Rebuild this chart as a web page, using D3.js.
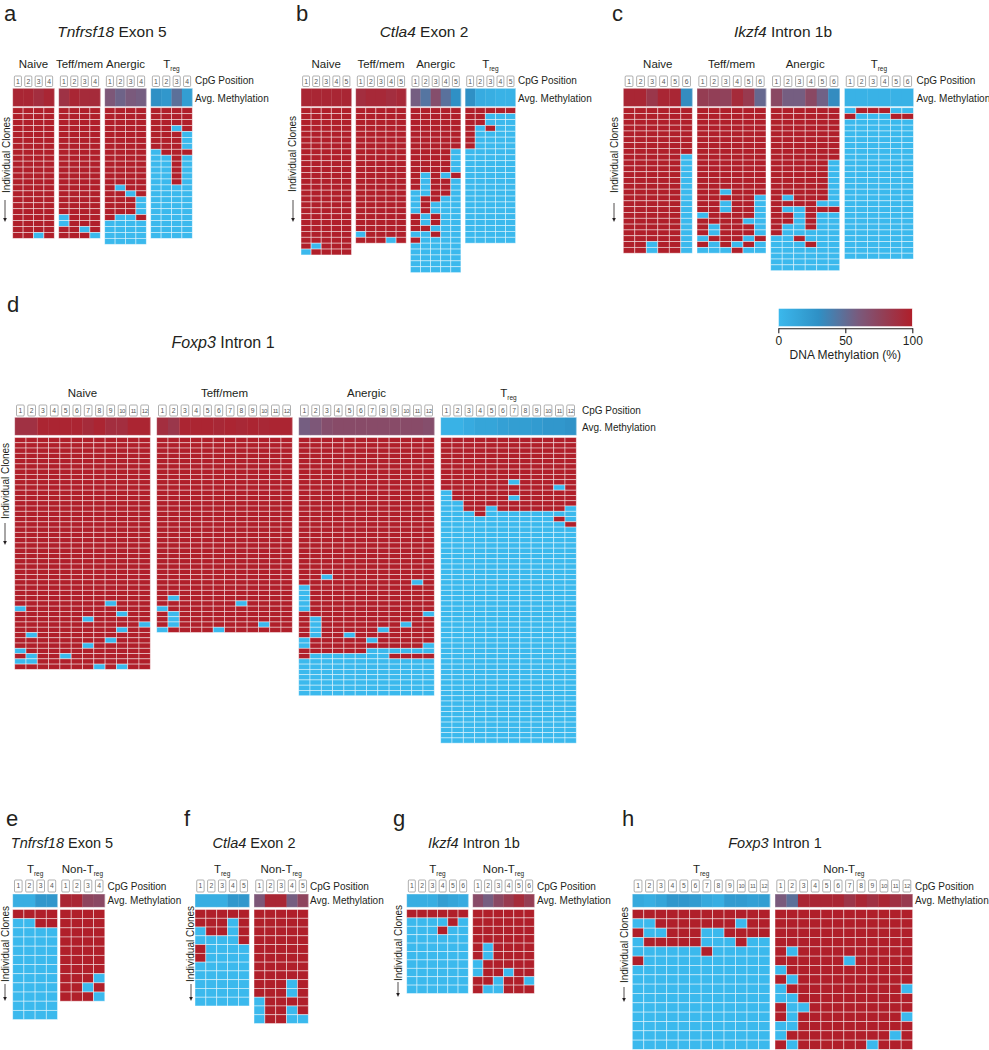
<!DOCTYPE html>
<html><head><meta charset="utf-8">
<script src="https://cdn.jsdelivr.net/npm/d3@7"></script>
<style>
body{margin:0;background:#fff}
svg{display:block}
text{font-family:"Liberation Sans",Arial,Helvetica,sans-serif;fill:#231f20}
</style>
</head><body>
<svg id="chart" width="989" height="1050"></svg>
<script>
// ---------- DATA (1 = methylated, 0 = unmethylated; "row*n" = n identical clones) ----------
const groupsABCD = ["Naive","Teff/mem","Anergic","Treg"];
const groupsEFGH = ["Treg","Non-Treg"];

const aNaive   = ["1111*21","1101"];
const aTeff    = ["1111*18","0111*2","1101","1110"];
const aAnergic = ["1111*13","1011","1101","1110*3","1001","0000*4"];
const aTreg    = ["1111*3","1101","1110*3","0111","0010*5","0000*9"];
const aAvg = [[95,95,90,95],[87,95,92,92],[62,55,60,58],[30,25,48,20]];

const bNaive   = ["11111*23","10111","01111"];
const bTeff    = ["11111*21","01111","11101"];
const bAnergic = ["11111*7","11110*4","10101","10110*2","00110","01100","01000*2","10100*2","11000","00100","10000","00000*5"];
const bTreg    = ["11111","11000*2","10100","10000*3","00000*16"];
const bAvg = [[95,95,95,95,95],[90,93,93,90,93],[58,45,68,47,30],[30,10,8,5,5]];

const cNaive   = ["111111*8","111110*15","110110*2"];
const cTeff    = ["111111*14","110111","111110","110110*2","011110","111100","101110*2","011101","101010","000100"];
const cAnergic = ["111111*9","111110*6","101110","111100","100111","110100*2","100100","100000","001000","000100","000000*4"];
const cTreg    = ["011100","100011","000000*24"];
const cAvg = [[95,95,84,95,95,32],[80,78,76,92,82,52],[72,58,58,72,56,32],[5,5,5,5,5,5]];

const dNaive   = ["111111111111*31","111111110111","011111111111","111111111011","111111011111","111111111110","111111111011","101111111111","111111110111","111111011111","011111111111","101101111111","001111111111","111111101011"];
const dTeff    = ["111111111111*30","101111111111","111111101111","011111111111","101111111111*2","101111111011","011110111111"];
const dAnergic = ["111111111111*26","110111111111","111111111101","011111111111*5","111111111110","101111111111","101111111011","101111101111","101101111111","011111011111","011111111110","111111000000","100000001111","000000000000*7"];
const dTreg    = ["111111111111*8","111111011111","111111111101","011111111111","011111011111","001111111111","001101111110","000100000000","000000000010","000000000001","000000000000*41"];
const dAvg = [[88,88,96,96,96,96,92,96,90,90,96,96],[90,84,96,96,96,94,96,94,96,94,96,96],[58,62,68,70,70,70,70,70,70,70,70,68],[5,5,10,15,15,18,20,20,22,25,25,28]];

const eTreg = ["1111","0011","0000*10"];
const eNon  = ["1111*7","1110","1101","1110"];
const eAvg = [[8,8,25,25],[95,95,75,72]];
const fTreg = ["11111","11101","01101","00001","10000*2","00000*5"];
const fNon  = ["11111*8","11101*2","01111","01101","01100"];
const fAvg = [[8,8,8,25,25],[62,95,95,58,75]];
const gTreg = ["111111","000010","000100","000000*7"];
const gNon  = ["111111*4","101111*2","011111","011011","110110","100111"];
const gAvg = [[8,8,8,20,15,10],[70,58,72,82,92,80]];
const hTreg = ["111111111111","001111111011","100111001111","011111000100","000000100000","100000000000","000000000000*9"];
const hNon  = ["111111111111*4","101111111111","111111011111","011111111111","101111111111","011111111110","001111111111","100111111111","101111111110","001111111111","011111111101","101111110111"];
const hAvg = [[12,8,15,25,25,22,12,8,22,22,18,20],[60,48,95,95,95,95,85,95,88,95,88,82]];

const colorTicks = [0,50,100];

// ---------- helpers ----------
function expand(list){
  const out=[];
  list.forEach(s=>{const [p,n]=s.split('*'); const k=n?+n:1; for(let i=0;i<k;i++) out.push(p.split('').map(Number));});
  return out;
}
const meth = d3.scaleLinear().domain([0,30,60,100])
  .range(["#3bb9ed","#2f90c5","#7a5a7c","#b01f2a"]).interpolate(d3.interpolateRgb).clamp(true);

const svg = d3.select("#chart");

// ---------- layout ----------
const top3 = {ly:20.5, tfs:15.5, ty:36.5, glY:67.5, boxY:76, boxH:10.5, avgY:88.3, avgH:18.3, gridY:107.7, cpgY:84, avgLY:101.5};
const bot4 = {ly:826, tfs:14.5, ty:848, glY:872.5, boxY:880, boxH:12, avgY:894, avgH:13.3, gridY:909.5, cpgY:889.5, avgLY:904};
const panels = [
 Object.assign({label:"a", lx:4, gene:"Tnfrsf18", rest:" Exon 5", tx:112, names:groupsABCD, data:[aNaive,aTeff,aAnergic,aTreg], avg:aAvg,
   x0:12.7, pitch:46, colW:10.4, rowH:5.94, cpgX:195, clX:9.5, clY:155, arX:5, arY1:200, arY2:222}, top3),
 Object.assign({label:"b", lx:296, gene:"Ctla4", rest:" Exon 2", tx:424, names:groupsABCD, data:[bNaive,bTeff,bAnergic,bTreg], avg:bAvg,
   x0:301, pitch:54.7, colW:10.1, rowH:5.89, cpgX:518, clX:295.5, clY:154, arX:293, arY1:200, arY2:222}, top3),
 Object.assign({label:"c", lx:612, gene:"Ikzf4", rest:" Intron 1b", tx:783, names:groupsABCD, data:[cNaive,cTeff,cAnergic,cTreg], avg:cAvg,
   x0:623.3, pitch:73.7, colW:11.5, rowH:5.82, cpgX:916.5, clX:617.5, clY:155, arX:614, arY1:203, arY2:222}, top3),
 {label:"d", lx:7, ly:312, gene:"Foxp3", rest:" Intron 1", tfs:16, tx:223, ty:348, names:groupsABCD, data:[dNaive,dTeff,dAnergic,dTreg], avg:dAvg,
   x0:14.7, pitch:142, colW:11.3, rowH:5.27, glY:397, boxY:405, boxH:11, avgY:417.3, avgH:18, gridY:437.5, cpgX:582, cpgY:413.5, avgLY:430.5,
   clX:9, clY:481, arX:5, arY1:523, arY2:545},
 Object.assign({label:"e", lx:6, gene:"Tnfrsf18", rest:" Exon 5", tx:62, names:groupsEFGH, data:[eTreg,eNon], avg:eAvg,
   x0:12.7, pitch:47.3, colW:11.2, rowH:9.17, cpgX:107.5, clX:9, clY:944, arX:5, arY1:984, arY2:1001}, bot4),
 Object.assign({label:"f", lx:184, gene:"Ctla4", rest:" Exon 2", tx:254, names:groupsEFGH, data:[fTreg,fNon], avg:fAvg,
   x0:195, pitch:59, colW:10.86, rowH:8.77, cpgX:310, clX:194, clY:944, arX:191, arY1:984, arY2:1001}, bot4),
 Object.assign({label:"g", lx:393, gene:"Ikzf4", rest:" Intron 1b", tx:474, names:groupsEFGH, data:[gTreg,gNon], avg:gAvg,
   x0:406.7, pitch:66, colW:10.27, rowH:8.4, cpgX:537, clX:402, clY:943, arX:398, arY1:982, arY2:997}, bot4),
 Object.assign({label:"h", lx:622, gene:"Foxp3", rest:" Intron 1", tx:775, names:groupsEFGH, data:[hTreg,hNon], avg:hAvg,
   x0:632.3, pitch:142.7, colW:11.47, rowH:9.33, cpgX:915, clX:628, clY:945, arX:624, arY1:987, arY2:1002}, bot4)
];

function groupLabel(g, name, cx, y){
  const t = g.append("text").attr("x",cx).attr("y",y).attr("text-anchor","middle").style("font-size","11.5px");
  if (name.endsWith("Treg")) {
    t.append("tspan").text(name.slice(0,-3));
    t.append("tspan").text("reg").style("font-size","6.5px").attr("dy",3);
  } else t.text(name);
}

function drawPanel(p){
  const g = svg.append("g");
  g.append("text").attr("x",p.lx).attr("y",p.ly).style("font-size","22px").text(p.label);
  const t = g.append("text").attr("x",p.tx).attr("y",p.ty).attr("text-anchor","middle").style("font-size",p.tfs+"px");
  t.append("tspan").style("font-style","italic").text(p.gene);
  t.append("tspan").text(p.rest);

  p.data.forEach((raw,gi)=>{
    const rows = expand(raw);
    const n = rows[0].length;
    const gx = p.x0 + gi*p.pitch;
    const x = d3.scaleBand().domain(d3.range(n)).range([gx, gx+n*p.colW]);
    const y = d3.scaleBand().domain(d3.range(rows.length)).range([p.gridY, p.gridY+rows.length*p.rowH]);
    const gg = g.append("g");
    groupLabel(gg, p.names[gi], gx + n*p.colW/2, p.glY);

    // CpG position boxes
    const bw = Math.min(7.8, p.colW*0.68);
    const boxes = gg.selectAll(".cpg").data(d3.range(n)).join("g");
    boxes.append("rect")
      .attr("x",d=>x(d)+(x.bandwidth()-bw)/2).attr("y",p.boxY).attr("width",bw).attr("height",p.boxH)
      .attr("rx",1).attr("fill","#fff").attr("stroke","#8c8c8c").attr("stroke-width",0.7);
    boxes.append("text")
      .attr("x",d=>x(d)+x.bandwidth()/2).attr("y",p.boxY+p.boxH/2+2.3).attr("text-anchor","middle")
      .style("font-size",d=>d>=9?"6px":"6.8px").style("letter-spacing",d=>d>=9?"-0.5px":"0")
      .style("fill","#555").text(d=>d+1);

    // average methylation
    gg.selectAll(".avg").data(p.avg[gi]).join("rect")
      .attr("x",(d,i)=>x(i)).attr("y",p.avgY).attr("width",x.bandwidth()+0.3).attr("height",p.avgH)
      .attr("fill",d=>meth(d));
    gg.append("rect").attr("x",gx).attr("y",p.avgY).attr("width",n*p.colW).attr("height",p.avgH)
      .attr("fill","none").attr("stroke","#fff").attr("stroke-opacity",0.5).attr("stroke-width",0.8);

    // clones
    const cells = [];
    rows.forEach((r,ri)=>r.forEach((v,ci)=>cells.push({ri,ci,v})));
    gg.selectAll(".cell").data(cells).join("rect")
      .attr("x",d=>x(d.ci)).attr("y",d=>y(d.ri)).attr("width",x.bandwidth()).attr("height",y.bandwidth())
      .attr("fill",d=>meth(d.v*100))
      .attr("stroke","#fff").attr("stroke-opacity",0.55).attr("stroke-width",0.8);
  });

  g.append("text").attr("x",p.cpgX).attr("y",p.cpgY).style("font-size","10px").text("CpG Position");
  g.append("text").attr("x",p.cpgX).attr("y",p.avgLY).style("font-size","10px").text("Avg. Methylation");

  g.append("text").attr("transform",`translate(${p.clX},${p.clY}) rotate(-90)`)
    .attr("text-anchor","middle").style("font-size","10px").text("Individual Clones");
  g.append("line").attr("x1",p.arX).attr("x2",p.arX).attr("y1",p.arY1).attr("y2",p.arY2-3)
    .attr("stroke","#231f20").attr("stroke-width",0.8);
  g.append("path").attr("d",`M${p.arX-1.8},${p.arY2-4}L${p.arX+1.8},${p.arY2-4}L${p.arX},${p.arY2}Z`).attr("fill","#231f20");
}
panels.forEach(drawPanel);

// ---------- colour bar ----------
const cb = d3.scaleLinear().domain([0,100]).range([778.3,912.3]);
const grad = svg.append("defs").append("linearGradient").attr("id","cbg").attr("x1","0%").attr("x2","100%");
grad.selectAll("stop").data(d3.range(0,101,5)).join("stop")
  .attr("offset",d=>d+"%").attr("stop-color",d=>meth(d));
svg.append("rect").attr("x",cb(0)).attr("y",308.3).attr("width",cb(100)-cb(0)).attr("height",18.4)
  .attr("fill","url(#cbg)").attr("stroke","#fff").attr("stroke-width",0.6);
const ax = svg.append("g").attr("transform","translate(0,328.3)")
  .call(d3.axisBottom(cb).tickValues(colorTicks).tickSize(5).tickSizeOuter(0).tickPadding(3.4));
ax.select(".domain").attr("stroke","#231f20").attr("stroke-width",1.1);
ax.selectAll(".tick line").attr("stroke","#231f20").attr("stroke-width",1.1);
ax.selectAll(".tick text").style("font-size","12px").style("font-family","'Liberation Sans',Arial,sans-serif").attr("fill","#231f20");
svg.append("text").attr("x",845.3).attr("y",359).attr("text-anchor","middle").style("font-size","12px").text("DNA Methylation (%)");
</script>
</body></html>
